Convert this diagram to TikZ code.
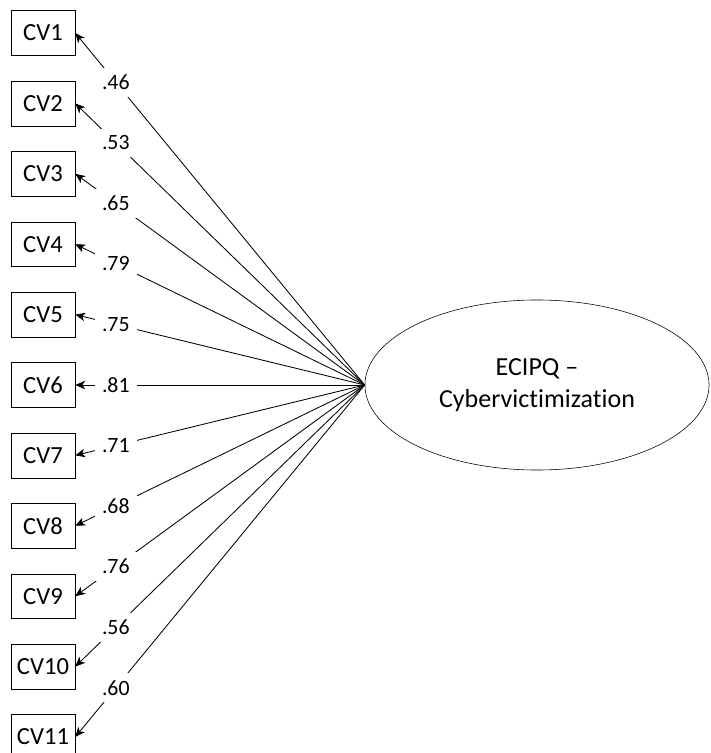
\documentclass[tikz,border=0pt]{standalone}
\usepackage{fontspec}
\setmainfont{Carlito}[Ligatures=NoCommon]
\usepackage{tikz}
\usetikzlibrary{shapes.geometric, arrows.meta}

\begin{document}
\begin{tikzpicture}[
          x=0.025cm, y=-0.025cm,
          item/.style={draw, minimum width=1.6cm, minimum height=1.12cm, inner sep=1pt, font=\fontsize{17.5}{21}\selectfont},
          factor/.style={draw, ellipse, minimum width=8.6cm, minimum height=4.25cm, align=center, font=\fontsize{18.5}{23}\selectfont},
          load/.style={pos=0.86, fill=white, inner sep=5pt, font=\fontsize{15.5}{18}\selectfont},
          path/.style={line width=0.6pt, -{Stealth[length=7pt, width=6pt, inset=2pt]}},
        ]
          \useasboundingbox (0,0) rectangle (710,753);

          \node[factor] (cyber) at (537,385) {ECIPQ --\\Cybervictimization};

          \node[item] (cv1) at (43,33) {CV1};
          \node[item] (cv2) at (43,103.4) {CV2};
          \node[item] (cv3) at (43,173.8) {CV3};
          \node[item] (cv4) at (43,244.2) {CV4};
          \node[item] (cv5) at (43,314.6) {CV5};
          \node[item] (cv6) at (43,385) {CV6};
          \node[item] (cv7) at (43,455.4) {CV7};
          \node[item] (cv8) at (43,525.8) {CV8};
          \node[item] (cv9) at (43,596.2) {CV9};
          \node[item] (cv10) at (43,666.6) {CV10};
          \node[item] (cv11) at (43,737) {CV11};

          \draw[path] (cyber.west) -- node[load] {.46} (cv1.east);
          \draw[path] (cyber.west) -- node[load] {.53} (cv2.east);
          \draw[path] (cyber.west) -- node[load] {.65} (cv3.east);
          \draw[path] (cyber.west) -- node[load] {.79} (cv4.east);
          \draw[path] (cyber.west) -- node[load] {.75} (cv5.east);
          \draw[path] (cyber.west) -- node[load] {.81} (cv6.east);
          \draw[path] (cyber.west) -- node[load] {.71} (cv7.east);
          \draw[path] (cyber.west) -- node[load] {.68} (cv8.east);
          \draw[path] (cyber.west) -- node[load] {.76} (cv9.east);
          \draw[path] (cyber.west) -- node[load] {.56} (cv10.east);
          \draw[path] (cyber.west) -- node[load] {.60} (cv11.east);
        \end{tikzpicture}
\end{document}
